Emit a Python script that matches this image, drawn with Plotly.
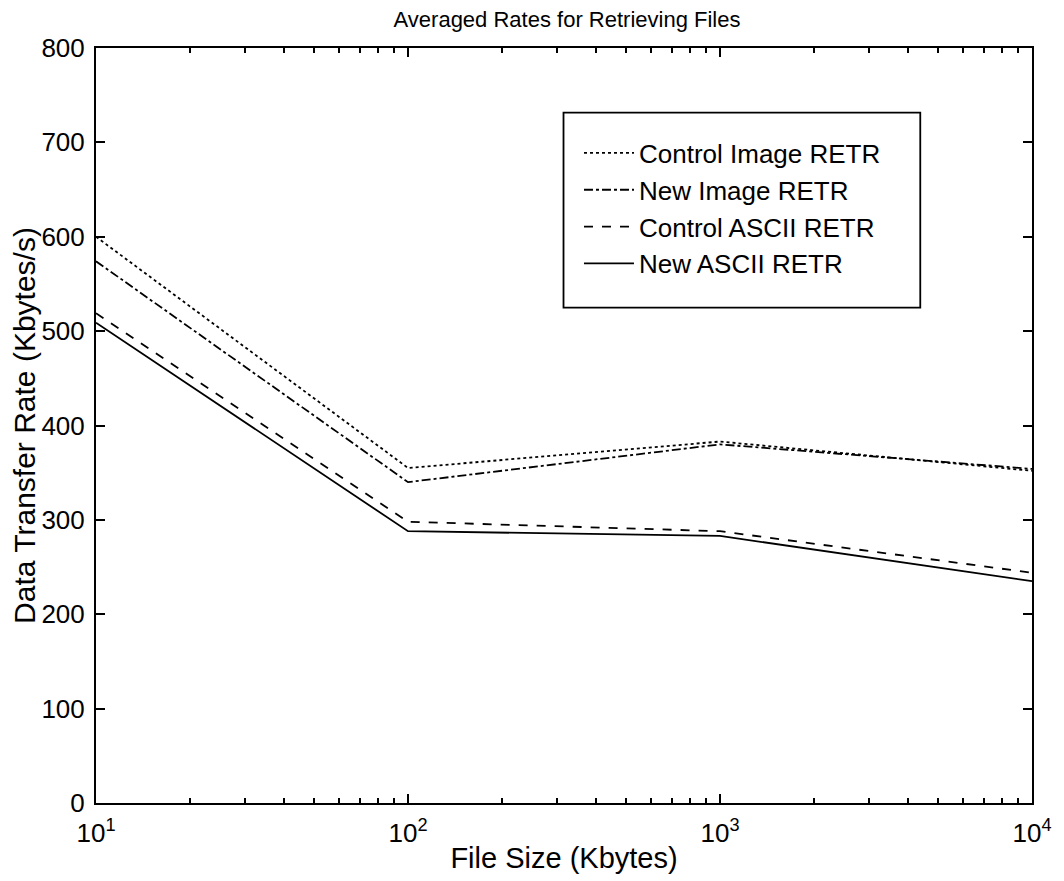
import plotly.graph_objects as go

file_size = [10, 100, 1000, 10000]
control_image = [600, 355, 383, 352]
new_image = [574, 340, 380, 354]
control_ascii = [519, 298, 288, 244]
new_ascii = [509, 288, 283, 235]

series = [
    ("Control Image RETR", control_image, "dot"),
    ("New Image RETR", new_image, "dashdot"),
    ("Control ASCII RETR", control_ascii, "dash"),
    ("New ASCII RETR", new_ascii, "solid"),
]

x_tickvals = [10, 100, 1000, 10000]
x_ticktext = ["10<sup>1</sup>", "10<sup>2</sup>", "10<sup>3</sup>", "10<sup>4</sup>"]
y_tickvals = [0, 100, 200, 300, 400, 500, 600, 700, 800]
minor_vals = [m * d for d in (10, 100, 1000) for m in range(2, 10)]

fig = go.Figure()
for name, vals, dash in series:
    fig.add_trace(go.Scatter(x=file_size, y=vals, mode="lines", name=name,
                             line=dict(color="black", width=1.8, dash=dash)))

# page body has an 8px margin: figure is 1056x873 placed at (8, 8)
OFF = 8
FW, FH = 1064 - OFF, 881 - OFF
# plot area in screen pixels
L, R, T, B = 89, 1044, 48, 807
W, H = R - L, B - T
font = "Liberation Sans, Arial, Helvetica, sans-serif"
fig.update_layout(
    width=FW, height=FH,
    margin=dict(l=L - OFF, r=FW - (R - OFF), t=T - OFF, b=FH - (B - OFF)),
    paper_bgcolor="white", plot_bgcolor="white",
    font=dict(family=font, color="black", size=26),
    title=dict(text="Averaged Rates for Retrieving Files", x=(567 - OFF) / FW, xanchor="center",
               y=1 - 11.5 / FH, yanchor="middle", font=dict(size=22)),
    showlegend=True,
    legend=dict(x=0.516, y=0.892, xanchor="left", yanchor="top",
                bgcolor="rgba(0,0,0,0)", borderwidth=0, itemwidth=50,
                font=dict(size=26), tracegroupgap=0),
    shapes=[dict(type="rect", xref="paper", yref="paper",
                 x0=(566 - L) / W, x1=(930 - L) / W,
                 y0=(B - 309) / H, y1=(B - 113) / H,
                 line=dict(color="black", width=1.8), fillcolor="rgba(0,0,0,0)")],
)
fig.update_xaxes(type="log", range=[1, 4], tickvals=x_tickvals, ticktext=x_ticktext,
                 ticks="inside", ticklen=9, tickwidth=1.8, tickcolor="black",
                 showline=True, linecolor="black", linewidth=2, mirror="ticks",
                 showgrid=False, zeroline=False, ticklabelstandoff=6,
                 tickfont=dict(size=26),
                 minor=dict(tickvals=minor_vals, ticks="inside", ticklen=5,
                            tickcolor="black", tickwidth=1.5, showgrid=False),
                 title=dict(text="File Size (Kbytes)", font=dict(size=29), standoff=0))
fig.update_yaxes(range=[0, 800], tickvals=y_tickvals,
                 ticks="inside", ticklen=9, tickwidth=1.8, tickcolor="black",
                 showline=True, linecolor="black", linewidth=2, mirror="ticks",
                 showgrid=False, zeroline=False, ticklabelstandoff=4,
                 tickfont=dict(size=26),
                 title=dict(text="Data Transfer Rate (Kbytes/s)", font=dict(size=30), standoff=0))

fig.write_html("out.html")
